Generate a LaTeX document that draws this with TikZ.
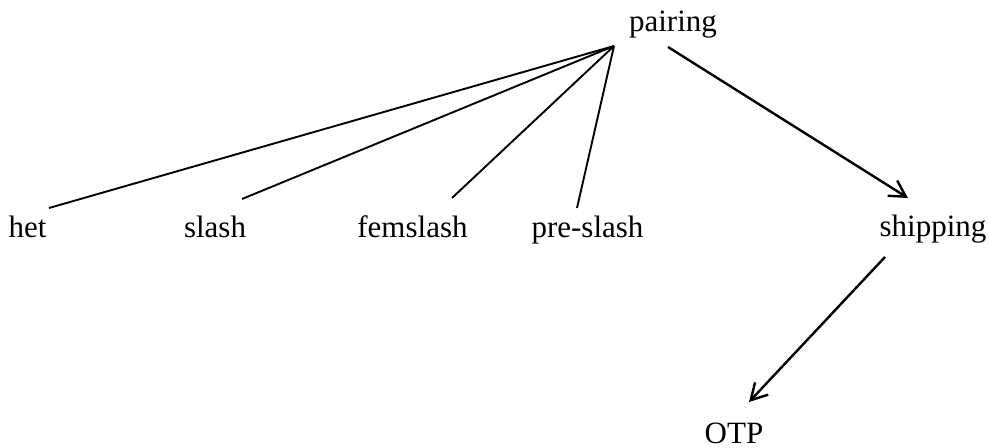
\documentclass[tikz,border=0pt]{standalone}
\usepackage{fontspec}
\setmainfont{Liberation Serif}
\usetikzlibrary{calc,arrows.meta}
\begin{document}
\begin{tikzpicture}[x=0.5pt,y=-0.5pt,
  term/.style={anchor=base,inner sep=0pt,font=\fontsize{15.5pt}{18pt}\selectfont},
  branch/.style={line width=0.95pt},
  link/.style={line width=1.2pt,-{Straight Barb[length=8pt,width=9pt,line width=1.2pt]}}]
\useasboundingbox (0,0) rectangle (989,448);
% words of the tree
\node[term] (pairing)  at (673,32)    {pairing};
\node[term] (het)      at (27.5,238)  {het};
\node[term] (slash)    at (215,238)   {slash};
\node[term] (femslash) at (412.5,238) {femslash};
\node[term] (preslash) at (587.5,238) {pre-slash};
\node[term] (shipping) at (933,237)   {shipping};
\node[term] (otp)      at (734,443)   {OTP};
% common point of the plain branches
\coordinate (hub) at ($(pairing.base)+(-59,14)$);
\draw[branch] (hub) -- ($(het.base)+(21.5,-30)$);
\draw[branch] (hub) -- ($(slash.base)+(27,-39)$);
\draw[branch] (hub) -- ($(femslash.base)+(39.5,-40)$);
\draw[branch] (hub) -- ($(preslash.base)+(-10.5,-30)$);
% arrowed links
\draw[link] ($(pairing.base)+(-5,15)$) -- ($(shipping.base)+(-25,-39)$);
\draw[link] ($(shipping.base)+(-48,20)$) -- ($(otp.base)+(15,-41)$);
\end{tikzpicture}
\end{document}
